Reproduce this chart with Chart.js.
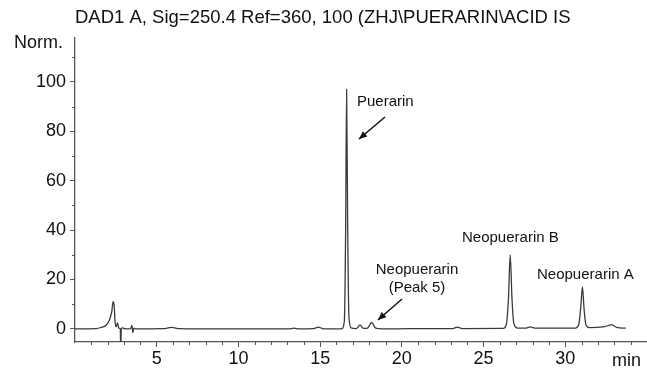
<!DOCTYPE html>
<html><head><meta charset="utf-8">
<script src="https://cdn.jsdelivr.net/npm/chart.js@4/dist/chart.umd.min.js"></script>
<style>html,body{margin:0;padding:0;background:#fff}#wrap{width:647px;height:369px}</style>
</head><body><div id="wrap"><canvas id="c"></canvas></div>
<script>
const titleText = "DAD1 A, Sig=250.4 Ref=360, 100 (ZHJ\\PUERARIN\\ACID IS";
const yUnit = "Norm.";
const xUnit = "min";
const xTickValues = [1,2,3,4,5,6,7,8,9,10,11,12,13,14,15,16,17,18,19,20,21,22,23,24,25,26,27,28,29,30,31,32,33,34];
const yTickValues = [0,10,20,30,40,50,60,70,80,90,100,110];
const peakLabels = ["Puerarin", "Neopuerarin", "(Peak 5)", "Neopuerarin B", "Neopuerarin A"];
const times = [0, 1.3, 1.6, 1.9, 2.1, 2.25, 2.33, 2.39, 2.45, 2.52, 2.6, 2.67, 2.73, 2.77, 2.8, 2.83, 2.9, 3.1, 3.4, 3.48, 3.54, 3.6, 3.7, 5.4, 5.9, 6.4, 7.5, 13.1, 13.4, 13.7, 14.6, 14.9, 15.2, 16.3, 16.48, 16.56, 16.62, 16.68, 16.76, 16.9, 17.2, 17.44, 17.65, 17.9, 18.15, 18.4, 18.8, 20.5, 23.1, 23.4, 23.7, 26.2, 26.4, 26.52, 26.63, 26.74, 26.86, 27.1, 27.55, 27.85, 28.2, 30.6, 30.83, 30.95, 31.05, 31.15, 31.27, 31.5, 32.3, 32.85, 33.15, 33.7];
const signal = [0, 0.1, 0.6, 1.5, 3.5, 7, 11, 10, 3, 0.8, 2.4, 0.5, 0.2, 0, -9, 0, 0.4, 0, 0.1, 1.4, -1.5, 0.3, 0, 0.1, 0.6, 0.1, 0, 0, 0.3, 0, 0.1, 0.7, 0, 0, 3, 40, 97, 45, 5, 0.4, 0.1, 1.6, 0.2, 0.3, 2.6, 0.3, 0, 0.1, 0.1, 0.7, 0.1, 0.2, 2, 12, 30, 12, 2, 0.3, 0.3, 0.8, 0.3, 0.3, 2, 9, 17, 8, 1.5, 0.5, 0.8, 1.6, 0.6, 0.3];

const pts = times.map((t, i) => ({x: t, y: signal[i]}));
const FONT = "'Liberation Sans', Arial, sans-serif";
const AXIS = '#555';

function arrow(ctx, x1, y1, x2, y2) {
  ctx.save();
  ctx.strokeStyle = '#111'; ctx.fillStyle = '#111'; ctx.lineWidth = 1.5;
  ctx.beginPath(); ctx.moveTo(x1, y1); ctx.lineTo(x2, y2); ctx.stroke();
  const a = Math.atan2(y2 - y1, x2 - x1), L = 8, W = 3.5;
  ctx.beginPath();
  ctx.moveTo(x2, y2);
  ctx.lineTo(x2 - L*Math.cos(a) + W*Math.sin(a), y2 - L*Math.sin(a) - W*Math.cos(a));
  ctx.lineTo(x2 - L*Math.cos(a) - W*Math.sin(a), y2 - L*Math.sin(a) + W*Math.cos(a));
  ctx.closePath(); ctx.fill();
  ctx.restore();
}

const textPlugin = {
  id: 'texts',
  afterDraw(chart) {
    const ctx = chart.ctx;
    const xs = chart.scales.x, ys = chart.scales.y, area = chart.chartArea;
    ctx.save();
    // minor ticks (shorter)
    ctx.strokeStyle = AXIS; ctx.lineWidth = 1;
    xTickValues.filter(v => v % 5 !== 0).forEach(v => {
      const px = Math.round(xs.getPixelForValue(v)) + 0.5;
      ctx.beginPath(); ctx.moveTo(px, area.bottom); ctx.lineTo(px, area.bottom + 3); ctx.stroke();
    });
    yTickValues.filter(v => v % 20 !== 0).forEach(v => {
      const py = Math.round(ys.getPixelForValue(v)) + 0.5;
      ctx.beginPath(); ctx.moveTo(area.left - 3, py); ctx.lineTo(area.left, py); ctx.stroke();
    });
    ctx.fillStyle = '#111';
    ctx.textBaseline = 'middle';
    ctx.textAlign = 'left';
    ctx.font = '18.5px ' + FONT;
    ctx.fillText(titleText, 75, 18);
    ctx.font = '18px ' + FONT;
    ctx.fillText(yUnit, 14, 43);
    ctx.fillText(xUnit, 612, 361);
    ctx.font = '15px ' + FONT;
    ctx.fillText(peakLabels[0], 357, 102);
    ctx.textAlign = 'center';
    ctx.fillText(peakLabels[1], 417, 270);
    ctx.fillText(peakLabels[2], 417, 288);
    ctx.textAlign = 'left';
    ctx.fillText(peakLabels[3], 462, 238);
    ctx.fillText(peakLabels[4], 537, 275);
    ctx.restore();
    arrow(ctx, 385, 117, 359, 139);
    arrow(ctx, 402, 299, 378, 320);
  }
};

new Chart(document.getElementById('c'), {
  type: 'line',
  data: { datasets: [{ data: pts, borderColor: '#3a3a3a', borderWidth: 1.3, pointRadius: 0, cubicInterpolationMode: 'monotone', fill: false }] },
  options: {
    responsive: true, maintainAspectRatio: false, animation: false,
    layout: { padding: { top: 38, right: 0, left: 0, bottom: 0 } },
    plugins: { legend: { display: false }, tooltip: { enabled: false }, title: { display: false } },
    scales: {
      x: {
        type: 'linear', min: 0, max: 35,
        afterBuildTicks: s => { s.ticks = xTickValues.map(v => ({value: v})); },
        afterFit: s => { s.height = 27; },
        border: { display: true, color: AXIS, width: 1.3 },
        grid: { display: true, drawOnChartArea: false, drawTicks: true, tickLength: 5, lineWidth: 1,
          tickColor: c => (c.tick && c.tick.value % 5 === 0 ? AXIS : 'rgba(0,0,0,0)') },
        ticks: { autoSkip: false, maxRotation: 0, padding: 1, color: '#111', font: { family: FONT, size: 18 },
          callback: v => (v % 5 === 0 ? String(v) : '') }
      },
      y: {
        min: -5.3, max: 117.8,
        afterBuildTicks: s => { s.ticks = yTickValues.map(v => ({value: v})); },
        afterFit: s => { s.width = 75; },
        border: { display: true, color: AXIS, width: 1.3 },
        grid: { display: true, drawOnChartArea: false, drawTicks: true, tickLength: 5, lineWidth: 1,
          tickColor: c => (c.tick && c.tick.value % 20 === 0 ? AXIS : 'rgba(0,0,0,0)') },
        ticks: { autoSkip: false, padding: 4, color: '#111', font: { family: FONT, size: 18 },
          callback: v => (v % 20 === 0 ? String(v) : '') }
      }
    }
  },
  plugins: [textPlugin]
});
</script></body></html>
